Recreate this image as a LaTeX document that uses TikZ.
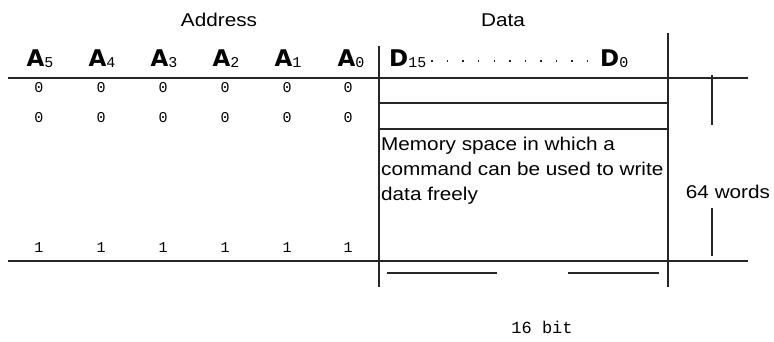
\documentclass[tikz,border=0pt]{standalone}
\usepackage{fontspec}
\setmainfont{Liberation Sans}
\newfontfamily\widesans[FakeStretch=1.12]{Liberation Sans}
\newfontfamily\pixfont{Liberation Mono}
\newfontfamily\boldlbl{DejaVu Sans}
\newcommand\sublbl[2]{{\boldlbl\bfseries\fontsize{23}{23}\selectfont #1}\raisebox{-0.15em}{\pixfont\fontsize{15}{15}\selectfont #2}}
\begin{document}
\begin{tikzpicture}[x=1pt,y=-1pt,
  rule/.style={draw=black!85,line width=1.3pt},
  heading/.style={font=\widesans\fontsize{18.5}{22}\selectfont,inner sep=0pt,anchor=base},
  bitlbl/.style={inner sep=0pt,anchor=base},
  cell/.style={font=\pixfont\fontsize{15}{15}\selectfont,inner sep=0pt},
  note/.style={font=\widesans\fontsize{18.5}{25}\selectfont,inner sep=0pt,align=left}]
\useasboundingbox (0,0) rectangle (774,341);
% headings
\node[heading] (addr) at (219,26) {Address};
\node[heading] (data) at (503,26) {Data};
% address bit labels
\node[bitlbl] (a5) at (40,66) {\sublbl{A}{5}};
\node[bitlbl] (a4) at (102,66) {\sublbl{A}{4}};
\node[bitlbl] (a3) at (164,66) {\sublbl{A}{3}};
\node[bitlbl] (a2) at (226,66) {\sublbl{A}{2}};
\node[bitlbl] (a1) at (288,66) {\sublbl{A}{1}};
\node[bitlbl] (a0) at (351,66) {\sublbl{A}{0}};
% data bit labels
\node[bitlbl,anchor=base west] (d15) at (389,66) {\sublbl{D}{15}};
\node[bitlbl,anchor=base west] (d0) at (600,66) {\sublbl{D}{0}};
\draw[black!85,line width=1.4pt,dash pattern=on 1.5pt off 14pt] ([xshift=5pt]d15.east|-0,61) -- ([xshift=-5pt]d0.west|-0,61);
% address values
\foreach \n/\x in {5/39,4/101,3/163,2/225,1/287,0/348}{
  \node[cell] (z\n a) at (\x,88) {0};
  \node[cell] (z\n b) at (\x,118) {0};
  \node[cell] (o\n) at (\x,248) {1};
}
% table rules
\draw[rule] (8,78) -- (748,78);
\draw[rule] (8,261) -- (748,261);
\draw[rule] (379,46) -- (379,287);
\draw[rule] (668,33) -- (668,287);
\draw[rule] (379,103) -- (668,103);
\draw[rule] (379,129) -- (668,129);
% memory text
\node[note,anchor=north west] (mem) at (381,137) {Memory space in which a\\command can be used to write\\data freely};
% 64 words
\node[heading] (words) at (728,198) {64 words};
\draw[rule] (712,75) -- (712,125);
\draw[rule] (712,208) -- (712,256);
% 16 bit
\draw[rule] (387,273) -- (497,273);
\draw[rule] (568,273) -- (659,273);
\node[cell,font=\pixfont\fontsize{17}{17}\selectfont] (bits) at (542,327) {16 bit};
\end{tikzpicture}
\end{document}
